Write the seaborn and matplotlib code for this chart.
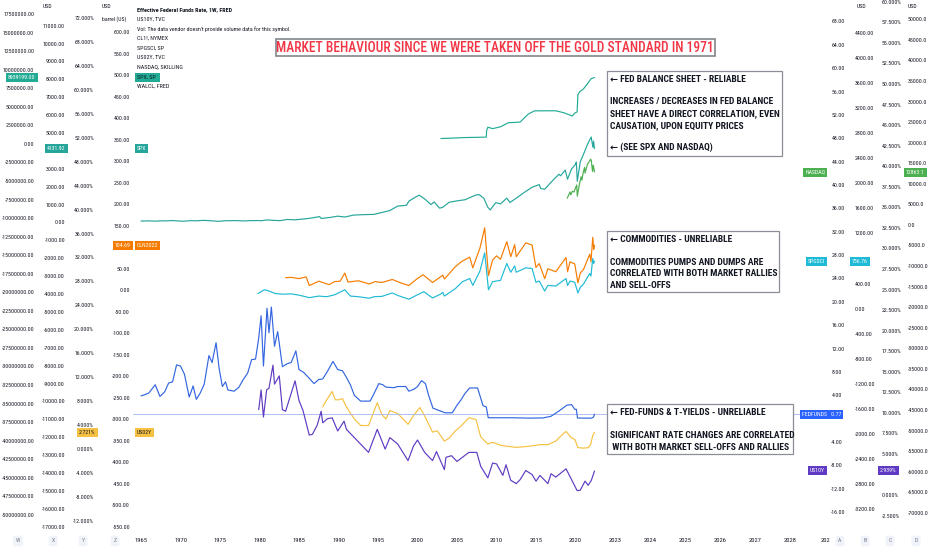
import numpy as np
import pandas as pd
import seaborn as sns
import matplotlib
matplotlib.use("Agg")
import matplotlib.pyplot as plt
from matplotlib import font_manager, transforms
from matplotlib.font_manager import FontProperties
from matplotlib.textpath import TextPath
from matplotlib.patches import Rectangle
from matplotlib.ticker import FixedLocator, FuncFormatter

# ---- data : (year, value) ----
walcl = [(2002.95, 720000), (2004.0, 760000), (2006.0, 850000), (2007.5, 880000), (2008.7, 905000),
         (2008.75, 1800000), (2008.9, 2250000), (2009.5, 2050000), (2010.5, 2300000), (2011.5, 2850000),
         (2012.5, 2900000), (2013.0, 2950000), (2014.0, 4000000), (2014.8, 4450000), (2017.5, 4460000),
         (2018.5, 4200000), (2019.6, 3760000), (2019.9, 4150000), (2020.2, 4300000), (2020.3, 6600000),
         (2020.5, 7000000), (2021.0, 7400000), (2021.5, 8100000), (2022.0, 8800000), (2022.4, 8939199)]

spx = [(1965.0, 85), (1965.5, 84), (1966.0, 92), (1966.8, 75), (1967.5, 92), (1968.2, 89), (1968.9, 107),
       (1969.5, 92), (1970.4, 70), (1971.3, 104), (1971.9, 92), (1972.9, 119), (1973.9, 95), (1974.8, 64),
       (1975.5, 95), (1976.8, 106), (1978.2, 87), (1978.7, 105), (1979.9, 108), (1980.2, 98), (1980.9, 140),
       (1982.6, 103), (1983.5, 170), (1984.5, 150), (1985.9, 210), (1986.5, 245), (1987.6, 330), (1987.8, 225),
       (1988.9, 280), (1989.9, 355), (1990.8, 305), (1991.9, 415), (1993.0, 435), (1994.5, 455), (1995.5, 560),
       (1996.5, 670), (1997.5, 920), (1998.6, 960), (1998.9, 1190), (1999.9, 1460), (2000.2, 1527), (2000.9, 1320),
       (2001.7, 1000), (2002.1, 1150), (2002.8, 800), (2003.2, 850), (2004.0, 1130), (2005.0, 1210),
       (2006.0, 1270), (2007.4, 1540), (2007.8, 1560), (2008.4, 1350), (2008.9, 850), (2009.2, 700),
       (2009.9, 1110), (2010.5, 1040), (2011.3, 1360), (2011.7, 1120), (2012.5, 1360), (2013.5, 1680),
       (2014.5, 1970), (2015.4, 2120), (2015.6, 1900), (2016.1, 1860), (2016.9, 2250), (2017.9, 2700),
       (2018.1, 2610), (2018.7, 2930), (2018.98, 2420), (2019.5, 3000), (2019.98, 3240), (2020.1, 3380),
       (2020.22, 2300), (2020.6, 3400), (2020.95, 3750), (2021.5, 4350), (2021.98, 4780), (2022.2, 4200),
       (2022.28, 4550), (2022.4, 4131.92)]

nasdaq = [(2018.95, 6500), (2019.3, 8000), (2019.4, 7300), (2019.6, 8200), (2019.8, 8000), (2020.0, 9000),
          (2020.15, 9700), (2020.22, 7000), (2020.5, 10000), (2020.7, 11700), (2020.8, 10900), (2021.0, 13000),
          (2021.15, 14000), (2021.2, 12600), (2021.5, 14700), (2021.8, 15600), (2021.9, 16000), (2022.0, 15600),
          (2022.15, 13000), (2022.25, 14500), (2022.4, 12863.1)]

crude = [(1983.3, 29), (1984.0, 30), (1985.0, 27), (1985.9, 31), (1986.3, 11), (1986.8, 15), (1987.5, 21),
         (1988.8, 13), (1989.5, 20), (1990.2, 21), (1990.8, 40), (1991.2, 19), (1992.5, 22), (1993.9, 14.5),
         (1994.6, 20), (1995.5, 18), (1996.8, 25), (1997.9, 17), (1998.9, 11), (1999.9, 26), (2000.7, 36),
         (2001.9, 18), (2002.9, 31), (2003.2, 35), (2003.4, 26), (2004.8, 55), (2005.6, 67), (2006.6, 77),
         (2007.0, 52), (2007.9, 98), (2008.5, 145), (2008.98, 34), (2009.5, 70), (2010.0, 80), (2010.5, 72),
         (2011.3, 113), (2011.8, 78), (2012.3, 106), (2012.5, 78), (2013.7, 110), (2014.5, 105), (2014.99, 53),
         (2015.4, 62), (2016.1, 27), (2016.5, 50), (2017.5, 43), (2018.8, 76), (2018.99, 43), (2019.3, 66),
         (2019.9, 61), (2020.3, 17), (2020.6, 40), (2021.0, 48), (2021.8, 84), (2021.95, 66), (2022.18, 123),
         (2022.3, 95), (2022.4, 104.69)]

spgsci = [(1979.8, 240), (1980.6, 300), (1981.0, 290), (1982.0, 240), (1983.0, 230), (1984.0, 235),
          (1985.0, 215), (1986.3, 175), (1987.5, 200), (1988.5, 190), (1989.5, 220), (1990.8, 300),
          (1991.5, 200), (1992.5, 190), (1993.9, 165), (1994.5, 190), (1995.5, 195), (1996.8, 250),
          (1997.5, 210), (1998.9, 150), (1999.9, 215), (2000.8, 270), (2001.9, 170), (2002.9, 230),
          (2003.2, 260), (2003.4, 200), (2004.8, 320), (2005.7, 430), (2006.6, 480), (2007.0, 370),
          (2007.9, 600), (2008.5, 890), (2008.98, 300), (2009.5, 430), (2010.5, 450), (2011.3, 720),
          (2011.8, 580), (2012.3, 680), (2012.5, 580), (2013.7, 650), (2014.5, 640), (2014.99, 420),
          (2015.4, 440), (2016.1, 280), (2016.5, 370), (2017.5, 360), (2018.8, 480), (2018.99, 370),
          (2019.3, 440), (2019.9, 420), (2020.3, 250), (2020.6, 340), (2021.0, 390), (2021.8, 560),
          (2021.95, 520), (2022.18, 800), (2022.3, 720), (2022.4, 756.76)]

fedfunds = [(1965.0, 3.9), (1965.5, 4.1), (1966.0, 4.4), (1966.8, 5.8), (1967.4, 3.8), (1968.0, 4.6),
            (1968.5, 6.1), (1969.0, 6.3), (1969.5, 9.2), (1970.0, 9.0), (1970.5, 7.6), (1971.1, 3.7),
            (1971.6, 5.6), (1972.0, 3.3), (1972.5, 4.4), (1973.0, 5.9), (1973.6, 10.8), (1974.0, 9.6),
            (1974.5, 13.0), (1974.9, 8.5), (1975.3, 5.5), (1975.7, 6.3), (1976.0, 4.9), (1976.8, 4.7),
            (1977.4, 5.4), (1977.9, 6.6), (1978.5, 7.8), (1979.0, 10.1), (1979.5, 10.2), (1979.9, 13.8),
            (1980.2, 17.6), (1980.5, 9.0), (1980.95, 18.9), (1981.2, 14.7), (1981.5, 19.1), (1981.9, 12.4),
            (1982.3, 14.9), (1982.9, 8.9), (1983.5, 9.4), (1984.0, 9.6), (1984.6, 11.6), (1985.0, 8.4),
            (1985.6, 7.9), (1986.3, 6.9), (1986.9, 6.0), (1987.5, 6.7), (1988.0, 6.8), (1988.6, 8.1),
            (1989.3, 9.8), (1989.9, 8.4), (1990.5, 8.2), (1990.9, 7.3), (1991.5, 5.8), (1992.0, 4.0),
            (1992.8, 3.0), (1993.5, 3.0), (1994.0, 3.0), (1994.5, 4.3), (1995.1, 6.0), (1995.6, 5.8),
            (1996.0, 5.4), (1997.0, 5.3), (1997.5, 5.5), (1998.5, 5.5), (1998.9, 4.7), (1999.5, 5.0),
            (2000.0, 5.5), (2000.5, 6.5), (2001.0, 6.0), (2001.4, 4.0), (2001.95, 1.8), (2002.9, 1.3),
            (2003.5, 1.0), (2004.4, 1.0), (2005.0, 2.3), (2005.5, 3.2), (2006.0, 4.3), (2006.6, 5.25),
            (2007.6, 5.25), (2008.0, 3.5), (2008.3, 2.2), (2008.7, 2.0), (2008.95, 0.16), (2010.0, 0.15),
            (2012.0, 0.15), (2014.0, 0.09), (2015.9, 0.12), (2016.9, 0.41), (2017.9, 1.3), (2018.9, 2.3),
            (2019.5, 2.4), (2019.9, 1.6), (2020.1, 1.6), (2020.25, 0.1), (2021.0, 0.09), (2022.0, 0.08),
            (2022.2, 0.2), (2022.3, 0.33), (2022.4, 0.77)]

us02y = [(1988.0, 7.0), (1988.5, 8.2), (1989.2, 9.6), (1989.6, 8.2), (1990.0, 8.2), (1990.5, 8.4),
         (1991.0, 7.0), (1992.0, 5.0), (1992.8, 3.9), (1993.8, 3.9), (1994.9, 7.7), (1995.5, 5.7),
         (1996.0, 5.0), (1996.5, 6.4), (1997.5, 5.9), (1998.8, 4.1), (1999.5, 5.6), (2000.3, 6.9),
         (2000.9, 5.5), (2001.9, 2.8), (2002.5, 3.0), (2003.4, 1.3), (2004.0, 1.8), (2004.8, 3.0),
         (2005.5, 3.8), (2006.5, 5.2), (2007.4, 4.9), (2008.0, 2.0), (2008.9, 0.8), (2009.5, 1.1),
         (2010.5, 0.6), (2011.5, 0.4), (2012.5, 0.25), (2013.5, 0.35), (2014.5, 0.5), (2015.5, 0.7),
         (2016.5, 0.7), (2017.5, 1.3), (2018.5, 2.6), (2018.8, 2.9), (2019.5, 1.8), (2019.9, 1.6),
         (2020.3, 0.2), (2021.0, 0.12), (2021.6, 0.2), (2021.9, 0.7), (2022.2, 2.3), (2022.4, 2.721)]

us10y = [(1979.9, 10.4), (1980.2, 12.8), (1980.5, 9.5), (1980.9, 12.8), (1981.2, 13.0), (1981.7, 15.8),
         (1981.9, 13.5), (1982.5, 14.5), (1982.9, 10.4), (1983.3, 10.2), (1984.5, 13.9), (1985.0, 11.5),
         (1985.5, 10.3), (1986.3, 7.3), (1986.7, 7.4), (1987.3, 8.5), (1987.8, 10.2), (1988.0, 8.8),
         (1988.6, 9.3), (1989.2, 9.4), (1989.9, 7.8), (1990.7, 9.0), (1991.0, 8.0), (1992.0, 7.0),
         (1993.8, 5.2), (1994.9, 8.0), (1995.9, 5.6), (1996.5, 7.0), (1997.5, 6.2), (1998.8, 4.2),
         (1999.5, 6.0), (2000.0, 6.7), (2000.9, 5.2), (2001.9, 4.2), (2002.4, 5.3), (2003.4, 3.1),
         (2003.6, 4.6), (2004.3, 4.8), (2005.0, 4.1), (2006.5, 5.2), (2007.5, 5.2), (2008.0, 3.5),
         (2008.9, 2.1), (2009.5, 3.9), (2010.0, 3.8), (2010.8, 2.4), (2011.2, 3.7), (2011.8, 1.8),
         (2012.5, 1.4), (2013.0, 1.9), (2013.7, 3.0), (2014.5, 2.5), (2015.0, 1.7), (2015.5, 2.4),
         (2016.5, 1.4), (2016.9, 2.6), (2017.5, 2.2), (2018.8, 3.2), (2019.7, 1.5), (2020.2, 0.55),
         (2020.6, 0.6), (2021.2, 1.7), (2021.6, 1.2), (2022.0, 1.8), (2022.4, 2.939)]

year_ticks = [1965, 1970, 1975, 1980, 1985, 1990, 1995, 2000, 2005, 2010, 2015, 2020,
              2023, 2024, 2025, 2026, 2027, 2028, 2029]
year_labels = [str(y) for y in year_ticks[:-1]] + ["202"]

legend_lines = ["Effective Federal Funds Rate, 1W, FRED", "US10Y, TVC",
                "Vol: The data vendor doesn't provide volume data for this symbol.",
                "CL1!, NYMEX", "SPGSCI, SP", "US02Y, TVC", "NASDAQ, SKILLING", "SPX, SP", "WALCL, FRED"]

# ---- styling ----
sns.set_theme(style="white")

# pick the narrowest family on the machine (TradingView uses a condensed face)
FONT, STRETCH = "Roboto", "normal"
ttf = font_manager.fontManager.ttflist
for want in ["Liberation Sans Narrow", "Roboto Condensed", "Open Sans Condensed", "DejaVu Sans Condensed"]:
    if any(f.name == want for f in ttf):
        FONT = want
        break
else:
    for f in ttf:
        if f.name in ("DejaVu Sans", "Roboto", "Open Sans", "Noto Sans") and str(f.stretch) in ("condensed", "semi-condensed", "75", "87"):
            FONT, STRETCH = f.name, "condensed"
            break
plt.rcParams["font.family"] = [FONT, "DejaVu Sans"]
plt.rcParams["font.stretch"] = STRETCH
TXT = "#131722"


def fit(s, px, weight="normal"):
    # font size (pt) that makes string s about px pixels wide
    fp = FontProperties(family=FONT, stretch=STRETCH, weight=weight, size=10)
    w = TextPath((0, 0), s, prop=fp).get_extents().width * 100 / 72
    return 10 * px / w


TICK_FS = fit("17500000.00", 29)
YEAR_FS = fit("1965", 12)
LEG_FS = fit("Vol: The data vendor doesn't provide volume data for this symbol.", 155)
TITLE_FS = fit("MARKET BEHAVIOUR SINCE WE WERE TAKEN OFF THE GOLD STANDARD IN 1971", 433)
NOTE_FS = fit("SHEET HAVE A DIRECT CORRELATION, EVEN", 170, "bold")

W, H = 932, 550
fig = plt.figure(figsize=(W / 100, H / 100), dpi=100)
PL, PR, PT, PB = 133, 828, 0, 531


def fx(x):
    return x / W


def fy(y):
    return 1 - y / H


ax = fig.add_axes([fx(PL), fy(PB), (PR - PL) / W, (PB - PT) / H])

# time axis: compressed history, wide spacing for future years (like the TV time scale)
YR = [1900.0, 1965.0, 2022.4, 2100.0]
PXS = [141 - 65 * 7.9, 141.0, 594.5, 594.5 + 77.6 * 35]
ax.set_xscale("function", functions=(lambda v: np.interp(v, YR, PXS),
                                     lambda p: np.interp(p, PXS, YR)))
ax.set_xlim(1965 - 8 / 7.9, 2022.4 + (PR - 594.5) / 35)
ax.set_xticks(year_ticks)
ax.set_xticklabels(year_labels)
ax.tick_params(axis="x", length=0, pad=5.2, labelsize=YEAR_FS, labelcolor=TXT)
ax.set_yticks([])
for s in ax.spines.values():
    s.set_visible(False)

# one price scale per series: (data, colour, side, outward pt, ylim, ticks, fmt)
scales = {
    "W": (walcl, "#22ab94", "left", 69.8, (-52.18e6, 19.39e6), np.arange(-50e6, 17.6e6, 2.5e6), "{:.2f}"),
    "X": (spx, "#26a69a", "left", 47.5, (-17245, 12437), np.arange(-17000, 11001, 1000), "{:.2f}"),
    "Y": (us02y, "#f6c142", "left", 26.6, (-13.74, 75.06), np.arange(-12, 73, 4), "{:.3f}%"),
    "Z": (crude, "#f57c00", "left", 0.7, (-560, 675), np.arange(-550, 601, 50), "{:.2f}"),
    "A": (fedfunds, "#3366e0", "right", 1.0, (-19.24, 71.68), np.arange(-16, 69, 4), "{:.2f}"),
    "B": (spgsci, "#1fbad6", "right", 18.0, (-3546, 4921), np.arange(-3200, 4401, 400), "{:.2f}"),
    "C": (us10y, "#5e3bc2", "right", 37.4, (-4.36, 60.21), np.arange(-2.5, 60.1, 2.5), "{:.3f}%"),
    "D": (nasdaq, "#4caf50", "right", 56.2, (-74440, 54694), np.arange(-70000, 50001, 5000), "{:.1f}"),
}

axes = {}
for key, (data, col, side, off, lim, ticks, fmt) in scales.items():
    a = ax.twinx()
    df = pd.DataFrame(data, columns=["year", "value"])
    sns.lineplot(data=df, x="year", y="value", ax=a, color=col, linewidth=0.85, sort=False)
    a.set_ylim(*lim)
    a.set_ylabel("")
    a.set_xlabel("")
    if side == "left":
        a.yaxis.tick_left()
    else:
        a.yaxis.tick_right()
    a.spines[side].set_position(("outward", off))
    for s in a.spines.values():
        s.set_visible(False)
    # like TradingView, drop scale labels hidden under the last-value badge
    px_per_unit = (PB - PT) / (lim[1] - lim[0])
    last = data[-1][1]
    ticks = [t for t in ticks if abs(t - last) * px_per_unit > 7]
    a.yaxis.set_major_locator(FixedLocator(ticks))
    a.yaxis.set_major_formatter(FuncFormatter(lambda v, p, f=fmt: f.format(v)))
    a.tick_params(axis="y", length=0, pad=1.4, labelsize=TICK_FS, labelcolor=TXT)
    axes[key] = a

# last-value line of Fed funds
axes["A"].axhline(fedfunds[-1][1], color="#aebff2", linewidth=0.7, zorder=0)


def badge(x, key, text, fc, tc="white", ha="left"):
    tr = transforms.blended_transform_factory(fig.transFigure, axes[key].transData)
    fig.text(fx(x), scales[key][0][-1][1], text, transform=tr, ha=ha, va="center",
             fontsize=TICK_FS, color=tc, zorder=6,
             bbox=dict(boxstyle="square,pad=0.35", fc=fc, ec="none"))


badge(8, "W", "8939199.00", "#22ab94")
badge(47, "X", "4131.92", "#26a69a")
badge(79, "Y", "2.721%", "#f6c142", tc=TXT)
badge(115, "Z", "104.69", "#f57c00")
badge(137, "X", "SPX", "#26a69a")
badge(137, "Z", "CLN2022", "#f57c00")
badge(137, "Y", "US02Y", "#f6c142", tc=TXT)
badge(137, "W", "WALCL   ", "#22ab94", tc="#22ab94")
badge(825, "D", "NASDAQ", "#4caf50", ha="right")
badge(906, "D", "12863.1", "#4caf50")
badge(825, "B", "SPGSCI", "#1fbad6", ha="right")
badge(852, "B", "756.76", "#1fbad6")
badge(802, "A", "FEDFUNDS   0.77", "#2962ff")
badge(825, "C", "US10Y", "#5e3bc2", ha="right")
badge(880, "C", "2.939%", "#5e3bc2")

# legend (top-left of the pane)
for i, line in enumerate(legend_lines):
    fig.text(fx(137), fy(9.5 + i * 9.6), line, fontsize=LEG_FS, color=TXT, va="center",
             fontweight="bold" if i == 0 else "normal", zorder=7)

# scale headers
for x, y, t in [(43, 7, "USD"), (102, 7, "USD"), (102, 19, "barrel (US)"), (857, 7, "USD"), (908, 7, "USD")]:
    fig.text(fx(x), fy(y), t, fontsize=TICK_FS, color=TXT, va="center")

# scale letters at the bottom
for x, t in [(18, "W"), (53, "X"), (83, "Y"), (115, "Z"), (840, "A"), (865, "B"), (890, "C"), (916, "D")]:
    fig.text(fx(x), fy(541), t, fontsize=TICK_FS, color="#787b86", ha="center", va="center",
             bbox=dict(boxstyle="round,pad=0.5", fc="#f0f3fa", ec="none"))

# title box
fig.patches.append(Rectangle((fx(276), fy(56)), (715 - 276) / W, 17 / H, transform=fig.transFigure,
                             fc="white", ec="#80868b", lw=1.2, zorder=5))
fig.text(fx(495), fy(47.5), "MARKET BEHAVIOUR SINCE WE WERE TAKEN OFF THE GOLD STANDARD IN 1971",
         fontsize=TITLE_FS, color="#f23645", ha="center", va="center", zorder=6, fontweight="medium")

# annotation boxes
notes = [
    ((607, 71, 782, 156), [(80, "← FED BALANCE SHEET - RELIABLE"),
                           (102, "INCREASES / DECREASES IN FED BALANCE"),
                           (113.5, "SHEET HAVE A DIRECT CORRELATION, EVEN"),
                           (125.5, "CAUSATION, UPON EQUITY PRICES"),
                           (147, "← (SEE SPX AND NASDAQ)")]),
    ((607, 231, 779, 292), [(239.5, "← COMMODITIES - UNRELIABLE"),
                            (262.3, "COMMODITIES PUMPS AND DUMPS ARE"),
                            (273.5, "CORRELATED WITH BOTH MARKET RALLIES"),
                            (285, "AND SELL-OFFS")]),
    ((607, 404, 793, 454), [(412.7, "← FED-FUNDS & T-YIELDS - UNRELIABLE"),
                            (436, "SIGNIFICANT RATE CHANGES ARE CORRELATED"),
                            (447, " WITH BOTH MARKET SELL-OFFS AND RALLIES")]),
]
for (x0, y0, x1, y1), lines in notes:
    fig.patches.append(Rectangle((fx(x0), fy(y1)), (x1 - x0) / W, (y1 - y0) / H, transform=fig.transFigure,
                                 fc="white", ec="#8a8e97", lw=0.9, zorder=5))
    for y, t in lines:
        fig.text(fx(x0 + 3), fy(y), t, fontsize=NOTE_FS, fontweight="bold", color=TXT,
                 va="center", ha="left", zorder=6)

fig.savefig("out.png", dpi=100, facecolor="white")
